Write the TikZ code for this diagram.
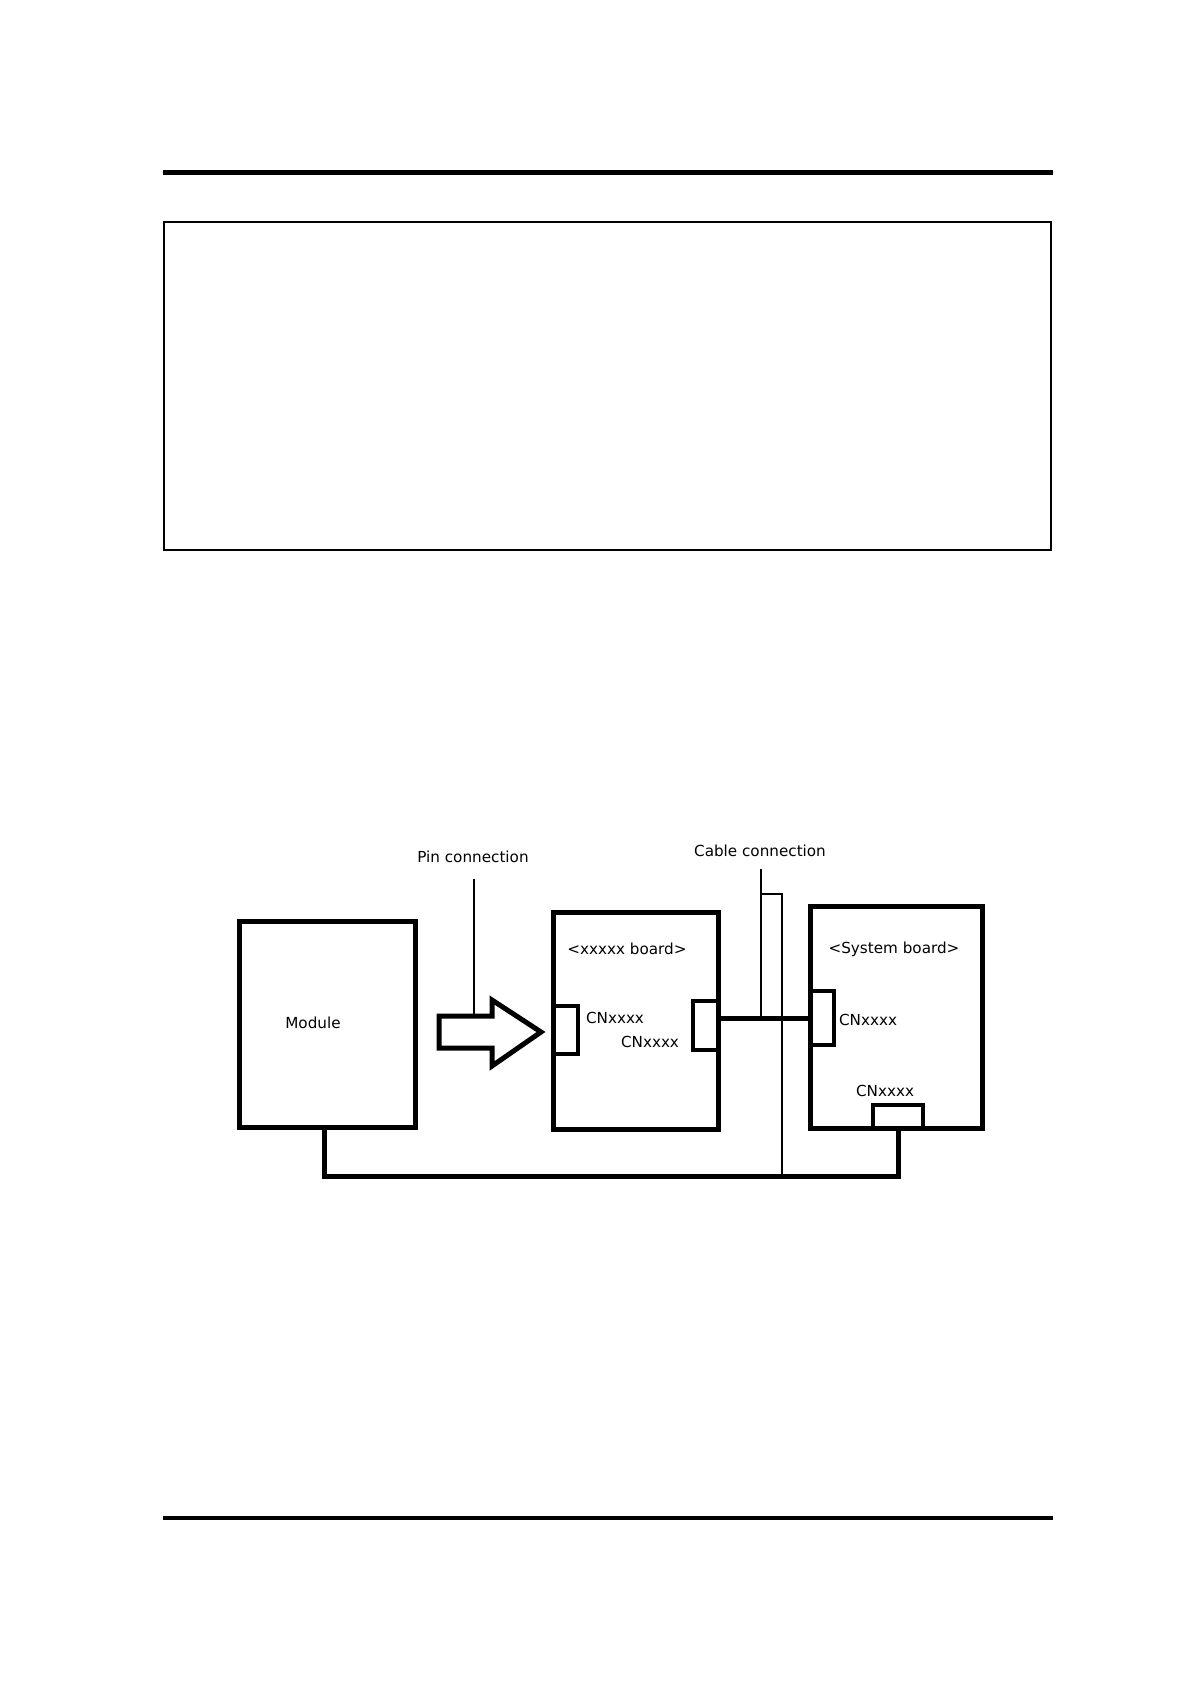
\documentclass[tikz,border=0pt]{standalone}
\usepackage{fontspec}
\setmainfont{DejaVu Sans}
\usetikzlibrary{positioning}

\begin{document}
\begin{tikzpicture}[x=1pt, y=-1pt, inner sep=0pt,
    font=\fontsize{15.2}{18}\selectfont,
    board/.style={draw, rectangle, line width=5pt},
    conn/.style={draw, rectangle, line width=4pt},
    cable/.style={line width=5pt},
    lead/.style={line width=1.2pt}]
    \useasboundingbox (0,0) rectangle (1190,1684);

    % Page rules and frame
    \draw [line width=5pt]   (163,172.5) -- (1053,172.5);
    \draw [line width=1.3pt] (164,222) rectangle (1051,550);
    \draw [line width=4pt]   (163,1518) -- (1053,1518);

    % Boards {mod, xb, sb}
    \node [board, minimum width=176pt, minimum height=206pt] (mod) at (327,1024)     {};
    \node [board, minimum width=165pt, minimum height=217pt] (xb)  at (635.5,1020.5) {};
    \node [board, minimum width=172pt, minimum height=222pt] (sb)  at (896,1017)     {};

    % Connectors {cn1, cn2, cn3, cn4}
    \node [conn, minimum width=25pt, minimum height=48pt] (cn1) at (565.5,1030)   {};
    \node [conn, minimum width=25pt, minimum height=49pt] (cn2) at (705.5,1025.5) {};
    \node [conn, minimum width=24pt, minimum height=54pt] (cn3) at (822,1018)     {};
    \node [conn, minimum width=50pt, minimum height=23pt] (cn4) at (898,1116.5)   {};

    % Labels
    \node (tmod) at (313,1023) {Module};
    \node (txb)  at (627,949)  {\textless xxxxx board\textgreater};
    \node (tsb)  at (894,949)  {\textless System board\textgreater};
    \node (tcn1) at (615,1018) {CNxxxx};
    \node (tcn2) at (650,1042) {CNxxxx};
    \node (tcn3) at (868,1020) {CNxxxx};
    \node (tcn4) at (885,1091) {CNxxxx};
    \node (tpin) at (473,857)  {Pin connection};
    \node (tcab) at (760,851)  {Cable connection};

    % Pin arrow
    \coordinate (pinhit) at (474,1016);
    \draw [line width=5pt] (439,1016) -- (pinhit) -- (492,1016) -- (492,1000) -- (541,1032)
        -- (492,1066) -- (492,1048) -- (439,1048) -- cycle;

    % Paths
    \draw [cable] (cn2.east |- cn3.west) -- (cn3.west);
    \draw [cable] ([xshift=-3pt]mod.south) -- ++(0,47) coordinate (bus) -| (cn4.south);

    % Leads
    \coordinate (pintop) at (474,879);
    \coordinate (cabtop) at (761,869);
    \coordinate (tick)   at (761,894);
    \coordinate (drop)   at (782,894);
    \draw [lead] (pintop) -- (pinhit);
    \draw [lead] (cabtop) -- (cabtop |- cn3.west);
    \draw [lead] (tick) -- (drop) -- (drop |- bus);
\end{tikzpicture}
\end{document}
